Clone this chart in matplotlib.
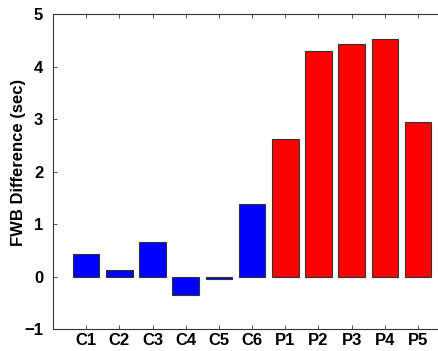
import matplotlib
matplotlib.use('Agg')
import matplotlib.pyplot as plt

# values
labels = ['C1', 'C2', 'C3', 'C4', 'C5', 'C6', 'P1', 'P2', 'P3', 'P4', 'P5']
diffs = [0.43, 0.12, 0.655, -0.355, -0.05, 1.38, 2.62, 4.30, 4.44, 4.53, 2.95]
colors = ['blue'] * 6 + ['red'] * 5

plt.rcParams['font.family'] = ['Liberation Sans', 'DejaVu Sans']
plt.rcParams['font.weight'] = 'bold'

fig = plt.figure(figsize=(4.38, 3.51), dpi=100)
ax = fig.add_axes([0.121, 0.062, 0.909, 0.897])

x = list(range(1, len(labels) + 1))
ax.bar(x, diffs, width=0.8, color=colors, edgecolor='#333333', linewidth=0.8)

ax.set_xlim(0, 12)
ax.set_ylim(-1, 5)
ax.set_xticks(x)
ax.set_xticklabels(labels, fontsize=12, fontweight='bold')
ax.set_yticks([-1, 0, 1, 2, 3, 4, 5])
ax.set_yticklabels(['\u22121', '0', '1', '2', '3', '4', '5'], fontsize=12, fontweight='bold')
ax.tick_params(direction='in', length=3, width=0.6, color='#333333', top=True, right=False)
ax.tick_params(axis='x', pad=3)
ax.tick_params(axis='y', pad=7)
ax.set_ylabel('FWB Difference (sec)', fontsize=12, fontweight='bold')
ax.yaxis.set_label_coords(-0.068, 0.53)

for s in ['left', 'bottom', 'top']:
    ax.spines[s].set_color('#333333')
    ax.spines[s].set_linewidth(0.8)
ax.spines['right'].set_visible(False)

fig.savefig('out.png', dpi=100)
